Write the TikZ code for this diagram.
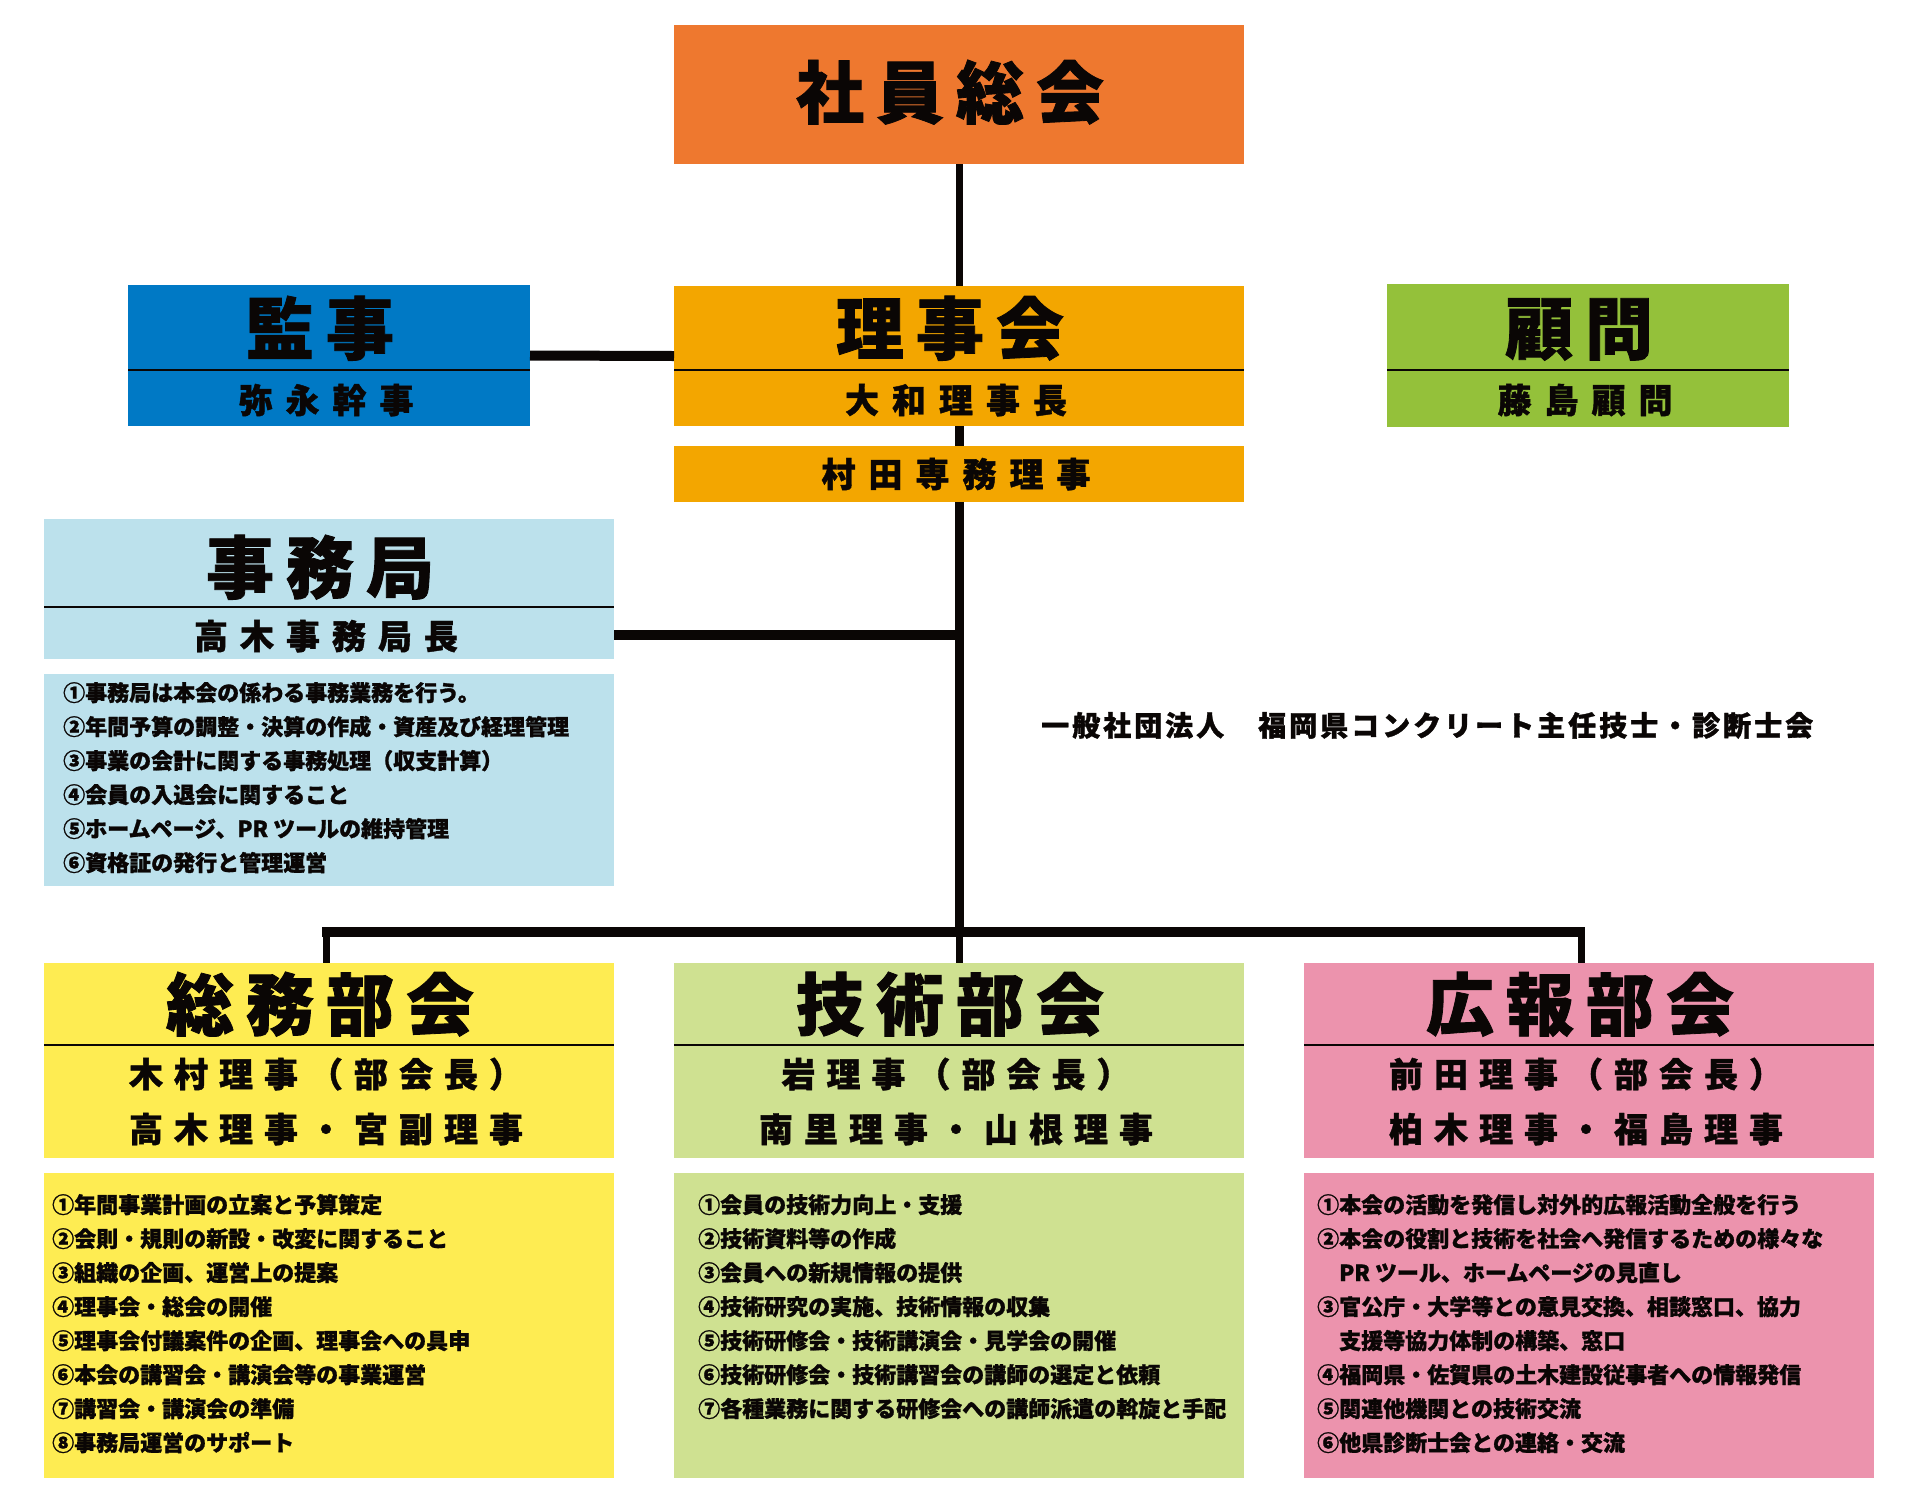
\documentclass[tikz,border=0pt]{standalone}
\usepackage{fontspec}
\setmainfont{Noto Sans CJK JP}[BoldFeatures={FakeBold=1.2}]
\makeatletter
\newcommand\lsp[2]{\def\lsp@amt{#1}\lsp@loop#2\lsp@end}
\def\lsp@loop#1#2\lsp@end{#1\if\relax\detokenize{#2}\relax\else\hspace{\lsp@amt}\lsp@loop#2\lsp@end\fi}
\makeatother
\definecolor{cOrange}{RGB}{238,120,47}
\definecolor{cBlue}{RGB}{0,121,197}
\definecolor{cGold}{RGB}{243,166,0}
\definecolor{cGreen}{RGB}{148,193,58}
\definecolor{cLBlue}{RGB}{188,225,236}
\definecolor{cYellow}{RGB}{254,236,82}
\definecolor{cLGreen}{RGB}{207,225,145}
\definecolor{cPink}{RGB}{236,147,173}
\definecolor{cInk}{RGB}{10,6,5}
\tikzset{
  box/.style={draw=none, inner sep=0pt, outer sep=0pt},
  divline/.style={draw=cInk, line width=2pt},
  conn/.style={draw=cInk, line width=7pt},
  trunk/.style={draw=cInk, line width=9pt},
  bar/.style={draw=cInk, line width=10pt},
  ttl/.style={anchor=base, inner sep=0pt, xshift=-9pt, text=cInk, font=\fontsize{68}{68}\selectfont\bfseries},
  subt/.style={anchor=base, inner sep=0pt, xshift=-3pt, text=cInk, font=\fontsize{34}{34}\selectfont\bfseries},
  desc/.style={anchor=base west, inner sep=0pt, text=cInk, font=\fontsize{22}{22}\selectfont\bfseries},
  org/.style={anchor=base west, inner sep=0pt, text=cInk, font=\fontsize{28}{28}\selectfont\bfseries},
}
\begin{document}
\begin{tikzpicture}[x=1pt,y=-1pt]
\useasboundingbox[fill=white] (0,0) rectangle (1920,1500);
% boxes
\node[box, fill=cOrange, minimum width=570pt, minimum height=139pt] (sb) at (959,94.5) {};
\node[box, fill=cBlue, minimum width=402pt, minimum height=141pt] (kanji) at (329,355.5) {};
\node[box, fill=cGold, minimum width=570pt, minimum height=140pt] (riji) at (959,356) {};
\node[box, fill=cGreen, minimum width=402pt, minimum height=143pt] (komon) at (1588,355.5) {};
\node[box, fill=cGold, minimum width=570pt, minimum height=56pt] (murata) at (959,474) {};
\node[box, fill=cLBlue, minimum width=570pt, minimum height=140pt] (jimu) at (329,589) {};
\node[box, fill=cLBlue, minimum width=570pt, minimum height=212pt] (jimud) at (329,780) {};
\node[box, fill=cYellow, minimum width=570pt, minimum height=195pt] (soumu) at (329,1060.5) {};
\node[box, fill=cLGreen, minimum width=570pt, minimum height=195pt] (gijutsu) at (959,1060.5) {};
\node[box, fill=cPink, minimum width=570pt, minimum height=195pt] (kouhou) at (1589,1060.5) {};
\node[box, fill=cYellow, minimum width=570pt, minimum height=305pt] (soumud) at (329,1325.5) {};
\node[box, fill=cLGreen, minimum width=570pt, minimum height=305pt] (gijutsud) at (959,1325.5) {};
\node[box, fill=cPink, minimum width=570pt, minimum height=305pt] (kouhoud) at (1589,1325.5) {};
% dividers
\draw[divline] (kanji.west |- 0,370) -- (kanji.east |- 0,370);
\draw[divline] (riji.west |- 0,370) -- (riji.east |- 0,370);
\draw[divline] (komon.west |- 0,370) -- (komon.east |- 0,370);
\draw[divline] (jimu.west |- 0,607) -- (jimu.east |- 0,607);
\draw[divline] (soumu.west |- 0,1045) -- (soumu.east |- 0,1045);
\draw[divline] (gijutsu.west |- 0,1045) -- (gijutsu.east |- 0,1045);
\draw[divline] (kouhou.west |- 0,1045) -- (kouhou.east |- 0,1045);
% connectors
\coordinate (hub) at (959,932);
\coordinate (jhub) at (959,635);
\draw[conn] (sb.south) -- (riji.north);
\draw[bar] (kanji.east) -- (riji.west);
\draw[trunk] (riji.south) -- (murata.north);
\draw[trunk] (murata.south) -- (hub);
\draw[bar] (jimu.east |- jhub) -- (jhub);
\coordinate (barL) at (322,932);
\coordinate (barR) at (1585,932);
\draw[bar] (barL) -- (barR);
\draw[conn] ([xshift=-3pt]soumu.north |- hub) -- ([xshift=-3pt]soumu.north);
\draw[conn] (hub) -- (gijutsu.north);
\draw[conn] ([xshift=-8pt]kouhou.north |- hub) -- ([xshift=-8pt]kouhou.north);
% titles
\node[ttl] (sbT) at (959,118) {\lsp{12pt}{社員総会}};
\node[ttl] (kanjiT) at (329,354) {\lsp{12pt}{監事}};
\node[ttl] (rijiT) at (959,354) {\lsp{12pt}{理事会}};
\node[ttl] (komonT) at (1588,354) {\lsp{12pt}{顧問}};
\node[subt] (kanjiS) at (329,413) {\lsp{13pt}{弥永幹事}};
\node[subt] (rijiS) at (959,413) {\lsp{13pt}{大和理事長}};
\node[subt] (komonS) at (1588,413) {\lsp{13pt}{藤島顧問}};
\node[subt] (murataS) at (959,487) {\lsp{13pt}{村田専務理事}};
\node[ttl] (jimuT) at (329,593) {\lsp{12pt}{事務局}};
\node[subt] (jimuS) at (329,649) {\lsp{12pt}{高木事務局長}};
\node[ttl] (soumuT) at (329,1030) {\lsp{12pt}{総務部会}};
\node[ttl] (gijutsuT) at (959,1030) {\lsp{12pt}{技術部会}};
\node[ttl] (kouhouT) at (1589,1030) {\lsp{12pt}{広報部会}};
\node[subt] (soumuS1) at (329,1087) {\lsp{11pt}{木村理事（部会長）}};
\node[subt] (soumuS2) at (329,1142) {\lsp{11pt}{高木理事・宮副理事}};
\node[subt] (gijutsuS1) at (959,1087) {\lsp{11pt}{岩理事（部会長）}};
\node[subt] (gijutsuS2) at (959,1142) {\lsp{11pt}{南里理事・山根理事}};
\node[subt] (kouhouS1) at (1589,1087) {\lsp{11pt}{前田理事（部会長）}};
\node[subt] (kouhouS2) at (1589,1142) {\lsp{11pt}{柏木理事・福島理事}};
% org label
\node[org] (orgL) at (1041,736) {\lsp{3pt}{一般社団法人　福岡県コンクリート主任技士・診断士会}};
% jimu description
\node[desc] (j1) at (63,701) {①事務局は本会の係わる事務業務を行う。};
\node[desc] (j2) at (63,735) {②年間予算の調整・決算の作成・資産及び経理管理};
\node[desc] (j3) at (63,769) {③事業の会計に関する事務処理（収支計算）};
\node[desc] (j4) at (63,803) {④会員の入退会に関すること};
\node[desc] (j5) at (63,837) {⑤ホームページ、PR ツールの維持管理};
\node[desc] (j6) at (63,871) {⑥資格証の発行と管理運営};
% soumu description
\node[desc] (s1) at (52,1213) {①年間事業計画の立案と予算策定};
\node[desc] (s2) at (52,1247) {②会則・規則の新設・改変に関すること};
\node[desc] (s3) at (52,1281) {③組織の企画、運営上の提案};
\node[desc] (s4) at (52,1315) {④理事会・総会の開催};
\node[desc] (s5) at (52,1349) {⑤理事会付議案件の企画、理事会への具申};
\node[desc] (s6) at (52,1383) {⑥本会の講習会・講演会等の事業運営};
\node[desc] (s7) at (52,1417) {⑦講習会・講演会の準備};
\node[desc] (s8) at (52,1451) {⑧事務局運営のサポート};
% gijutsu description
\node[desc] (g1) at (698,1213) {①会員の技術力向上・支援};
\node[desc] (g2) at (698,1247) {②技術資料等の作成};
\node[desc] (g3) at (698,1281) {③会員への新規情報の提供};
\node[desc] (g4) at (698,1315) {④技術研究の実施、技術情報の収集};
\node[desc] (g5) at (698,1349) {⑤技術研修会・技術講演会・見学会の開催};
\node[desc] (g6) at (698,1383) {⑥技術研修会・技術講習会の講師の選定と依頼};
\node[desc] (g7) at (698,1417) {⑦各種業務に関する研修会への講師派遣の斡旋と手配};
% kouhou description
\node[desc] (k1) at (1317,1213) {①本会の活動を発信し対外的広報活動全般を行う};
\node[desc] (k2) at (1317,1247) {②本会の役割と技術を社会へ発信するための様々な};
\node[desc] (k2b) at (1339,1281) {PR ツール、ホームページの見直し};
\node[desc] (k3) at (1317,1315) {③官公庁・大学等との意見交換、相談窓口、協力};
\node[desc] (k3b) at (1339,1349) {支援等協力体制の構築、窓口};
\node[desc] (k4) at (1317,1383) {④福岡県・佐賀県の土木建設従事者への情報発信};
\node[desc] (k5) at (1317,1417) {⑤関連他機関との技術交流};
\node[desc] (k6) at (1317,1451) {⑥他県診断士会との連絡・交流};
\end{tikzpicture}
\end{document}
